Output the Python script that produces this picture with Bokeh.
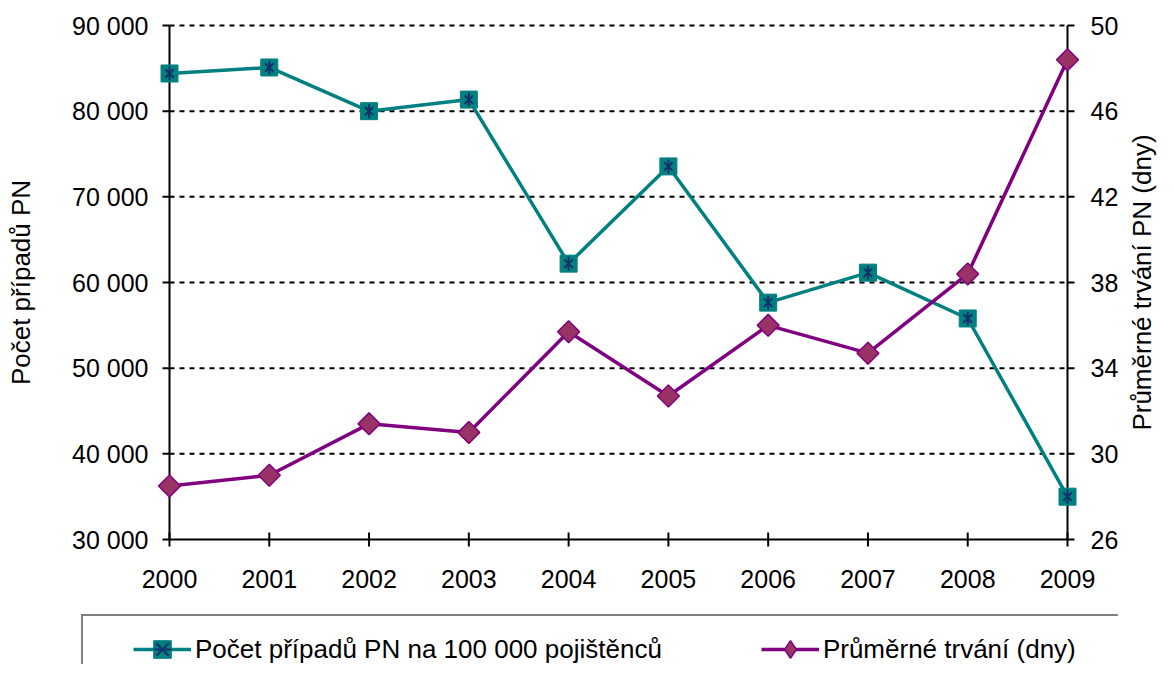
import math
from bokeh.plotting import figure
from bokeh.models import (Range1d, LinearAxis, FixedTicker, Legend, LegendItem,
                          ColumnDataSource, Label)
from bokeh.core.properties import value
from bokeh.embed import file_html
from bokeh.resources import INLINE

years = [2000, 2001, 2002, 2003, 2004, 2005, 2006, 2007, 2008, 2009]
cases = [84400, 85100, 80000, 81350, 62200, 73550, 57650, 61150, 55800, 35000]
duration = [28.5, 29.0, 31.4, 31.0, 35.7, 32.7, 36.0, 34.7, 38.4, 48.4]
left_ticks = [30000, 40000, 50000, 60000, 70000, 80000, 90000]
left_tick_labels = ["30 000", "40 000", "50 000", "60 000", "70 000", "80 000", "90 000"]
right_ticks = [26, 30, 34, 38, 42, 46, 50]
series_names = ["Počet případů PN na 100 000 pojištěnců", "Průměrné trvání (dny)"]
left_title = "Počet případů PN"
right_title = "Průměrné trvání PN (dny)"

FONT = "Liberation Sans"
TEAL = "#008080"
NAVY = "#14306a"
PURPLE = "#800080"
PLUM = "#993366"

# can tick labels be pulled inward (negative standoff)?
try:
    LinearAxis(major_label_standoff=-5)
    NEG_OK = True
except Exception:
    NEG_OK = False

# geometry in pixels
CANVAS_W = 1158
AXIS_LEFT_X, AXIS_RIGHT_X = 169, 1067        # pixel positions of the two value axes
AX_W, AX_H = AXIS_RIGHT_X - AXIS_LEFT_X, 514
LEFT_LABEL_EDGE, RIGHT_LABEL_EDGE = 148, 1090
FRAME_TOP, PAD_T, PAD_B = 21, 4, 125
if NEG_OK:
    FRAME_LEFT, FRAME_RIGHT = 80, 1118
else:
    FRAME_LEFT, FRAME_RIGHT = 148, 1090
PAD_L = AXIS_LEFT_X - FRAME_LEFT
PAD_R = FRAME_RIGHT - AXIS_RIGHT_X
TICK = 7

x0, x1 = years[0], years[-1]
y0, y1 = left_ticks[0], left_ticks[-1]
r0, r1 = right_ticks[0], right_ticks[-1]
sx = (x1 - x0) / AX_W
sy = (y1 - y0) / AX_H
sr = (r1 - r0) / AX_H

FW = AX_W + PAD_L + PAD_R
FH = AX_H + PAD_T + PAD_B

p = figure(frame_width=FW, frame_height=FH,
           output_backend="svg", toolbar_location=None,
           x_range=Range1d(x0 - PAD_L * sx, x1 + PAD_R * sx),
           y_range=Range1d(y0 - PAD_B * sy, y1 + PAD_T * sy),
           min_border_left=FRAME_LEFT, min_border_top=FRAME_TOP,
           min_border_right=CANVAS_W - FRAME_RIGHT, min_border_bottom=0)
p.outline_line_color = None
p.background_fill_color = "white"
p.border_fill_color = "white"
p.extra_y_ranges = {"dur": Range1d(r0 - PAD_B * sr, r1 + PAD_T * sr)}
p.xgrid.visible = False
p.ygrid.visible = False
p.xaxis.visible = False

def style_axis(ax, standoff):
    ax.axis_line_color = None
    ax.major_tick_line_color = None
    ax.minor_tick_line_color = None
    ax.major_tick_in = 0
    ax.major_tick_out = 0
    ax.major_label_text_font = FONT
    ax.major_label_text_font_size = "25px"
    ax.major_label_text_color = "black"
    ax.major_label_standoff = standoff

ya = p.yaxis[0]
ya.ticker = FixedTicker(ticks=left_ticks)
ya.major_label_overrides = {t: l for t, l in zip(left_ticks, left_tick_labels)}
style_axis(ya, FRAME_LEFT - LEFT_LABEL_EDGE)

ra = LinearAxis(y_range_name="dur", ticker=FixedTicker(ticks=right_ticks))
style_axis(ra, RIGHT_LABEL_EDGE - FRAME_RIGHT)
p.add_layout(ra, "right")

# axis titles, both reading bottom-to-top
lt = Label(x=x0 - 149 * sx, y=(y0 + y1) / 2, text=left_title,
           angle=math.pi / 2, text_align="center", text_baseline="middle",
           text_font=FONT, text_font_size="26px", text_color="black")
p.add_layout(lt, "left")
rt = Label(x=x1 + 74 * sx, y=(y0 + y1) / 2, text=right_title,
           angle=math.pi / 2, text_align="center", text_baseline="middle",
           text_font=FONT, text_font_size="26px", text_color="black")
p.add_layout(rt, "right")

# category labels under the x axis
p.text(x=years, y=[y0 - 39 * sy] * len(years), text=[str(v) for v in years],
       text_align="center", text_baseline="middle", text_font=value(FONT),
       text_font_size="25px", text_color="black")

# dotted gridlines between the axes
p.segment(x0=[x0] * (len(left_ticks) - 1), x1=[x1] * (len(left_ticks) - 1),
          y0=left_ticks[1:], y1=left_ticks[1:], line_color="black", line_width=2, line_dash="5 5")

# axis lines and ticks
p.segment(x0=[x0, x1, x0], x1=[x0, x1, x1], y0=[y0, y0, y0], y1=[y1, y1, y0],
          line_color="black", line_width=2)
p.segment(x0=[x0 - TICK * sx] * len(left_ticks), x1=[x0] * len(left_ticks),
          y0=left_ticks, y1=left_ticks, line_color="black", line_width=2)
p.segment(x0=[x1] * len(right_ticks), x1=[x1 + TICK * sx] * len(right_ticks),
          y0=right_ticks, y1=right_ticks, y_range_name="dur", line_color="black", line_width=2)
p.segment(x0=years, x1=years, y0=[y0 - TICK * sy] * len(years), y1=[y0 + TICK * sy] * len(years),
          line_color="black", line_width=2)

src = ColumnDataSource(dict(x=years, cases=cases, dur=duration))

l1 = p.line("x", "cases", source=src, line_color=TEAL, line_width=3.5)
m1 = p.scatter("x", "cases", source=src, marker="square", size=17, fill_color=TEAL, line_color=TEAL)
a1 = p.scatter("x", "cases", source=src, marker="x", size=12, line_color=NAVY, line_width=2)
a2 = p.scatter("x", "cases", source=src, marker="dash", angle=math.pi / 2, size=14,
               line_color=NAVY, line_width=2)

l2 = p.line("x", "dur", source=src, y_range_name="dur", line_color=PURPLE, line_width=3.5)
# narrow diamond (gives the legend swatch); covered by the full diamond drawn next
d2 = p.scatter("x", "dur", source=src, y_range_name="dur", marker="diamond", size=14,
               fill_color=PLUM, line_color=PURPLE, line_width=1.5)
m2 = p.scatter("x", "dur", source=src, y_range_name="dur", marker="square", angle=math.pi / 4,
               size=15.5, fill_color=PLUM, line_color=PURPLE, line_width=1.5)

legend = Legend(items=[LegendItem(label=series_names[0], renderers=[l1, m1, a1, a2]),
                       LegendItem(label=series_names[1], renderers=[l2, d2])],
                orientation="horizontal", location=(1, -20),
                title=" ", title_location="left", title_text_font_size="26px", title_standoff=8,
                label_text_font=FONT, label_text_font_size="26px", label_text_color="black",
                glyph_width=58, glyph_height=44, label_height=26, label_standoff=4,
                spacing=99, padding=11, label_width=464, margin=0,
                border_line_color="black", border_line_width=2,
                background_fill_color="white", background_fill_alpha=1.0)
p.add_layout(legend, "center")

open("out.html", "w").write(file_html(p, INLINE))
